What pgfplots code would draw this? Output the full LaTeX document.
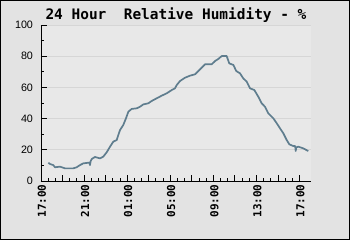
\documentclass[border=0pt]{standalone}
\usepackage{pgfplots}
\pgfplotsset{compat=1.18}
\usepackage{fontspec}
\setmainfont{Liberation Sans}
\newfontfamily\monob{DejaVu Sans Mono}
\definecolor{bgout}{HTML}{E3E3E3}
\definecolor{bgin}{HTML}{E8E8E8}
\definecolor{gridc}{HTML}{D6D6D6}
\definecolor{linec}{HTML}{5F7D8E}
\begin{document}
\begin{tikzpicture}
\useasboundingbox (-41bp,-59bp) rectangle (309bp,181bp);
\fill[bgout] (-41bp,-59bp) rectangle (309bp,181bp);
\draw[black, line width=1.5bp] (-40.25bp,-58.25bp) rectangle (308.25bp,180.25bp);
\begin{axis}[
  at={(0,0)}, anchor=south west,
  scale only axis, width=270bp, height=156bp,
  xmin=0, xmax=25.07, ymin=0, ymax=100,
  axis background/.style={fill=bgin},
  axis x line=bottom, axis y line=left,
  axis line style={-, black, line width=0.9bp},
  tick align=inside,
  tick style={black, line width=0.8bp},
  major tick length=5.5bp, minor tick length=3bp,
  ytick={0,20,...,100}, minor y tick num=1,
  xtick={0,2,...,24}, minor x tick num=2,
  xticklabels={17:00,,21:00,,01:00,,05:00,,09:00,,13:00,,17:00},
  ymajorgrids, grid style={gridc, line width=0.8bp},
  /pgf/number format/assume math mode=true,
  yticklabel style={font=\fontsize{10.8}{12}\selectfont, xshift=-4.5bp},
  xticklabel style={rotate=90, anchor=east, yshift=-1bp, font=\monob\bfseries\fontsize{11}{12}\selectfont},
]
\addplot[linec, line width=1.7bp, line join=round] coordinates {
(0.68,11.7) (0.84,10.9) (1.14,10.2) (1.30,8.8) (1.76,9.2) (2.23,8.1) (3.00,8.1)
(3.31,8.8) (3.62,10.2) (3.93,11.3) (4.39,11.7) (4.50,11.7) (4.55,10.2) (4.60,12.5)
(4.71,14.1) (5.01,15.4) (5.48,14.5) (5.78,15.6) (6.10,18.4) (6.41,22.0) (6.71,25.2)
(7.03,26.3) (7.18,29.5) (7.34,32.7) (7.64,35.9) (7.89,40.2) (8.11,44.4) (8.42,46.2)
(8.89,46.6) (9.19,47.6) (9.50,49.1) (9.96,49.8) (10.28,51.3) (10.74,53.0) (11.21,54.7)
(11.67,56.2) (12.14,58.3) (12.44,59.4) (12.60,61.5) (12.91,64.1) (13.37,66.2) (13.83,67.5)
(14.30,68.4) (14.61,70.5) (14.92,72.6) (15.23,74.8) (15.85,74.8) (16.16,76.9) (16.46,78.2)
(16.78,80.1) (17.24,80.1) (17.48,75.4) (17.86,74.4) (18.13,70.5) (18.48,69.0) (18.78,65.8)
(19.10,63.7) (19.41,59.4) (19.81,58.3) (20.18,54.0) (20.49,49.8) (20.80,47.6) (21.10,43.4)
(21.57,40.2) (21.89,37.0) (22.19,33.8) (22.50,30.6) (22.81,26.3) (23.06,23.5) (23.43,22.4)
(23.60,22.4) (23.65,19.2) (23.70,21.5) (23.89,22.0) (24.36,20.9) (24.82,19.2)
};
\end{axis}
\node[font=\monob\bfseries\fontsize{14.5}{18}\selectfont, anchor=base, inner sep=0pt] at (135bp,161bp) {24 Hour\ \ Relative Humidity - \%};
\end{tikzpicture}
\end{document}
